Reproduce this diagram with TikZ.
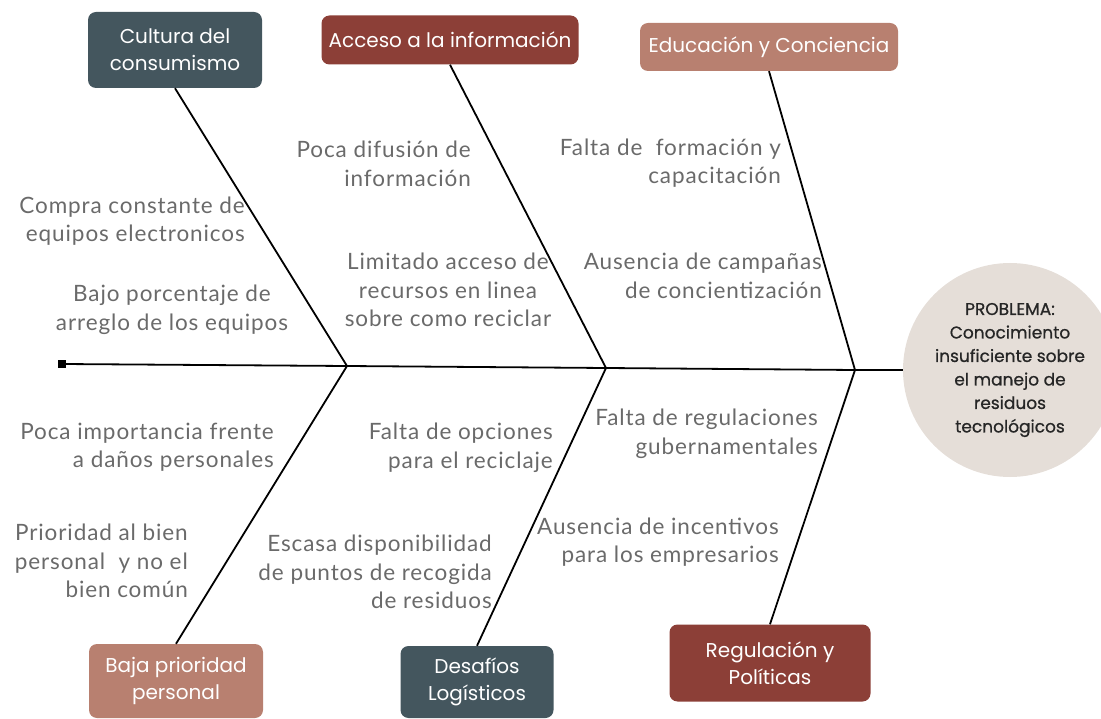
\documentclass[tikz,border=0pt]{standalone}
\usepackage{fontspec}
\setmainfont{Lato}[LetterSpace=4]
\newfontfamily\boxfont{Poppins}
\newfontfamily\circfont{Poppins}[FakeBold=0.8]
\usetikzlibrary{positioning}
\definecolor{slate}{HTML}{44565E}
\definecolor{brick}{HTML}{8C3F37}
\definecolor{tan}{HTML}{B88070}
\definecolor{circ}{HTML}{E5DED8}
\definecolor{txt}{HTML}{6A6A6A}
\tikzset{
  catbox/.style={rounded corners=8pt, text=white, align=center, inner sep=0pt,
    font=\boxfont\fontsize{20}{27}\selectfont},
  cause/.style={text=txt, inner sep=0pt, font=\fontsize{22.5}{28.5}\selectfont},
  bone/.style={line width=1.8pt, black},
}
\begin{document}
\begin{tikzpicture}[x=1pt,y=-1pt]
\useasboundingbox (0,0) rectangle (1101,719);
% effect circle
\node[circle, fill=circ, minimum size=214pt, inner sep=0pt, align=center,
  text=black!85, font=\circfont\fontsize{17}{23.5}\selectfont] (prob) at (1010,370)
  {PROBLEMA:\\Conocimiento\\insuficiente sobre\\el manejo de\\residuos\\tecnológicos};
% category boxes
\node[catbox, fill=slate, minimum width=174pt, minimum height=76pt] (cult) at (175,50) {Cultura del\\consumismo};
\node[catbox, fill=brick, minimum width=257pt, minimum height=49pt] (acc) at (450,40) {Acceso a la información};
\node[catbox, fill=tan, minimum width=258pt, minimum height=48pt] (edu) at (769,47) {Educación y Conciencia};
\node[catbox, fill=tan, minimum width=174pt, minimum height=74pt] (baja) at (176,681) {Baja prioridad\\personal};
\node[catbox, fill=slate, minimum width=153pt, minimum height=72pt] (des) at (477,682) {Desafíos\\Logísticos};
\node[catbox, fill=brick, minimum width=201pt, minimum height=77pt] (reg) at (770,663) {Regulación y\\Políticas};
% spine
\coordinate (s0) at (62,364);
\coordinate (j1) at (347,366);
\coordinate (j2) at (606,368);
\coordinate (j3) at (855,370);
\draw[bone] (s0) -- (j1) -- (j2) -- (j3) -- (prob.west);
\fill (s0) ++(-4,-4) rectangle ++(8,8);
% bones
\draw[bone] (j1) -- (cult.south);
\draw[bone] (j2) -- (acc.south);
\draw[bone] (j3) -- (edu.south);
\draw[bone] (j1) -- (baja.north);
\draw[bone] (j2) -- (des.north);
\draw[bone] (j3) -- (reg.north);
% causes
\node[cause, align=right, anchor=east] (c1) at (245,221) {Compra constante de\\equipos electronicos};
\node[cause, align=center] (c2) at (172,310) {Bajo porcentaje de\\arreglo de los equipos};
\node[cause, align=right, anchor=east] (c3) at (471,164) {Poca difusión de\\información};
\node[cause, align=center] (c4) at (448,290) {Limitado acceso de\\recursos en linea\\sobre como reciclar};
\node[cause, align=right, anchor=east] (c5) at (781,163) {Falta de \ formación y\\capacitación};
\node[cause, align=right, anchor=east] (c6) at (822,276) {Ausencia de campañas\\de concientización};
\node[cause, align=right, anchor=east] (c7) at (274,447) {Poca importancia frente\\a daños personales};
\node[cause, align=right, anchor=east] (c8) at (188,561) {Prioridad al bien\\personal \ y no el\\bien común};
\node[cause, align=right, anchor=east] (c9) at (553,448) {Falta de opciones\\para el reciclaje};
\node[cause, align=right, anchor=east] (c10) at (492,572) {Escasa disponibilidad\\de puntos de recogida\\de residuos};
\node[cause, align=right, anchor=east] (c11) at (818,434) {Falta de regulaciones\\gubernamentales};
\node[cause, align=right, anchor=east] (c12) at (779,542) {Ausencia de incentivos\\para los empresarios};
\end{tikzpicture}
\end{document}
